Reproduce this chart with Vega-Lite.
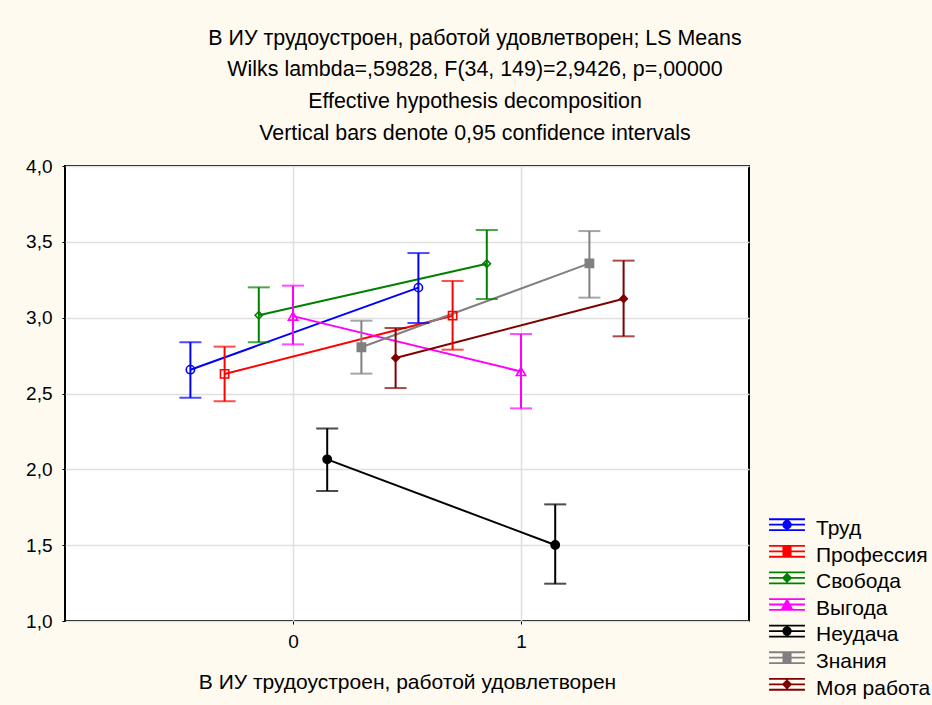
{
  "$schema": "https://vega.github.io/schema/vega-lite/v6.json",
  "width": 684,
  "height": 455,
  "padding": {"left": 25, "top": 27, "right": 4, "bottom": 8},
  "background": "#FEFAF0",
  "title": {
    "text": ["В ИУ трудоустроен, работой удовлетворен; LS Means", "Wilks lambda=,59828, F(34, 149)=2,9426, p=,00000", "Effective hypothesis decomposition", "Vertical bars denote 0,95 confidence intervals"],
    "font": "Liberation Sans", "fontSize": 21.4, "fontWeight": "normal", "lineHeight": 31.7, "anchor": "middle", "dx": 68, "offset": 13, "color": "#000"
  },
  "data": {"values": [
    {"series": "Труд", "x": -0.45, "mean": 2.657, "lo": 2.472, "hi": 2.838},
    {"series": "Труд", "x": 0.55, "mean": 3.198, "lo": 2.965, "hi": 3.426},
    {"series": "Профессия", "x": -0.3, "mean": 2.629, "lo": 2.449, "hi": 2.809},
    {"series": "Профессия", "x": 0.7, "mean": 3.013, "lo": 2.789, "hi": 3.242},
    {"series": "Свобода", "x": -0.15, "mean": 3.016, "lo": 2.838, "hi": 3.2},
    {"series": "Свобода", "x": 0.85, "mean": 3.356, "lo": 3.123, "hi": 3.578},
    {"series": "Выгода", "x": 0.0, "mean": 3.01, "lo": 2.824, "hi": 3.211},
    {"series": "Выгода", "x": 1.0, "mean": 2.645, "lo": 2.402, "hi": 2.892},
    {"series": "Неудача", "x": 0.15, "mean": 2.066, "lo": 1.857, "hi": 2.27},
    {"series": "Неудача", "x": 1.15, "mean": 1.501, "lo": 1.246, "hi": 1.769},
    {"series": "Знания", "x": 0.3, "mean": 2.805, "lo": 2.631, "hi": 2.98},
    {"series": "Знания", "x": 1.3, "mean": 3.358, "lo": 3.132, "hi": 3.571},
    {"series": "Моя работа", "x": 0.45, "mean": 2.734, "lo": 2.536, "hi": 2.932},
    {"series": "Моя работа", "x": 1.45, "mean": 3.125, "lo": 2.877, "hi": 3.376}
  ]},
  "encoding": {
    "x": {"field": "x", "type": "quantitative", "scale": {"domain": [-1, 2], "nice": false, "zero": false},
      "axis": {"values": [0, 1], "title": "В ИУ трудоустроен, работой удовлетворен", "labelFontSize": 19, "titleFontSize": 21, "titleFontWeight": "normal", "labelPadding": 8, "titlePadding": 20, "tickSize": 3, "domain": false}},
    "color": {"field": "series", "type": "nominal",
      "scale": {"domain": ["Труд", "Профессия", "Свобода", "Выгода", "Неудача", "Знания", "Моя работа"],
        "range": ["#0000FF", "#FF0000", "#008000", "#FF00FF", "#000000", "#808080", "#800000"]},
      "legend": {"title": null, "encode": {"symbols": {"update": {"shape": {"scale": "shape", "field": "value"}, "fill": {"signal": "indexof(['Неудача', 'Знания', 'Моя работа'], datum.value) >= 0 ? scale('color', datum.value) : 'transparent'"}, "stroke": {"scale": "color", "field": "value"}, "opacity": {"value": 1}, "strokeWidth": {"value": 1.8}, "size": {"value": 676}}}}}}
  },
  "layer": [
    {"mark": {"type": "line", "strokeWidth": 2},
     "encoding": {"y": {"field": "mean", "type": "quantitative", "scale": {"domain": [1, 4], "nice": false, "zero": false},
       "axis": {"values": [1, 1.5, 2, 2.5, 3, 3.5, 4], "labelExpr": "replace(format(datum.value, '.1f'), '.', ',')", "title": null, "labelFontSize": 19, "labelPadding": 10, "tickSize": 3, "domain": false}}}},
    {"mark": {"type": "rule", "strokeWidth": 2},
     "encoding": {"y": {"field": "lo", "type": "quantitative"}, "y2": {"field": "hi"}}},
    {"mark": {"type": "tick", "orient": "horizontal", "size": 22, "thickness": 2},
     "encoding": {"y": {"field": "lo", "type": "quantitative"}}},
    {"mark": {"type": "tick", "orient": "horizontal", "size": 22, "thickness": 2},
     "encoding": {"y": {"field": "hi", "type": "quantitative"}}},
    {"mark": {"type": "point", "filled": false, "strokeWidth": 1.6, "opacity": 1},
     "encoding": {"y": {"field": "mean", "type": "quantitative"},
       "fill": {"condition": [
         {"test": "datum.series === 'Неудача'", "value": "#000000"},
         {"test": "datum.series === 'Знания'", "value": "#808080"},
         {"test": "datum.series === 'Моя работа'", "value": "#800000"}], "value": "transparent"},
       "shape": {"condition": [
         {"test": "datum.series === 'Труд' || datum.series === 'Неудача'", "value": "circle"},
         {"test": "datum.series === 'Профессия' || datum.series === 'Знания'", "value": "square"},
         {"test": "datum.series === 'Выгода'", "value": "triangle-up"}], "value": "diamond"},
       "size": {"condition": [
         {"test": "datum.series === 'Свобода' || datum.series === 'Моя работа'", "value": 55},
         {"test": "datum.series === 'Выгода'", "value": 85}], "value": 68}}},
    {"mark": {"type": "point", "filled": false, "opacity": 0},
     "encoding": {"y": {"field": "mean", "type": "quantitative"},
       "shape": {"field": "series", "type": "nominal",
         "scale": {"domain": ["Труд", "Профессия", "Свобода", "Выгода", "Неудача", "Знания", "Моя работа"],
           "range": [
             "M-1.38,-0.75H1.38M-1.38,-0.33H1.38M-1.38,0.09H1.38M0,-0.75V0.09M0.29,-0.33A0.29,0.29,0,1,1,-0.29,-0.33A0.29,0.29,0,1,1,0.29,-0.33Z",
             "M-1.38,-0.75H1.38M-1.38,-0.33H1.38M-1.38,0.09H1.38M0,-0.75V0.09M-0.28,-0.61H0.28V-0.05H-0.28Z",
             "M-1.38,-0.75H1.38M-1.38,-0.33H1.38M-1.38,0.09H1.38M0,-0.75V0.09M0,-0.63L0.3,-0.33L0,-0.03L-0.3,-0.33Z",
             "M-1.38,-0.75H1.38M-1.38,-0.33H1.38M-1.38,0.09H1.38M0,-0.75V0.09M0,-0.68L0.34,-0.06H-0.34Z",
             "M-1.38,-0.75H1.38M-1.38,-0.33H1.38M-1.38,0.09H1.38M0,-0.75V0.09M0.29,-0.33A0.29,0.29,0,1,1,-0.29,-0.33A0.29,0.29,0,1,1,0.29,-0.33Z",
             "M-1.38,-0.75H1.38M-1.38,-0.33H1.38M-1.38,0.09H1.38M0,-0.75V0.09M-0.28,-0.61H0.28V-0.05H-0.28Z",
             "M-1.38,-0.75H1.38M-1.38,-0.33H1.38M-1.38,0.09H1.38M0,-0.75V0.09M0,-0.63L0.3,-0.33L0,-0.03L-0.3,-0.33Z"]},
         "legend": {"title": null, "encode": {"symbols": {"update": {"shape": {"scale": "shape", "field": "value"}, "fill": {"signal": "indexof(['Неудача', 'Знания', 'Моя работа'], datum.value) >= 0 ? scale('color', datum.value) : 'transparent'"}, "stroke": {"scale": "color", "field": "value"}, "opacity": {"value": 1}, "strokeWidth": {"value": 1.8}, "size": {"value": 676}}}}}}}}
  ],
  "config": {
    "font": "Liberation Sans",
    "view": {"stroke": "#000000", "strokeWidth": 2, "fill": "#FFFFFF"},
    "axis": {"gridColor": "#E0E0E0", "gridWidth": 1.5, "labelColor": "#000", "titleColor": "#000", "tickColor": "#000", "labelFont": "Liberation Sans", "titleFont": "Liberation Sans"},
    "legend": {"orient": "none", "legendX": 708, "legendY": 349, "padding": 0, "symbolSize": 676, "symbolStrokeWidth": 1.8, "symbolOpacity": 1, "labelFontSize": 21, "labelFont": "Liberation Sans", "labelColor": "#000", "labelOffset": 15, "rowPadding": 2.6}
  }
}
